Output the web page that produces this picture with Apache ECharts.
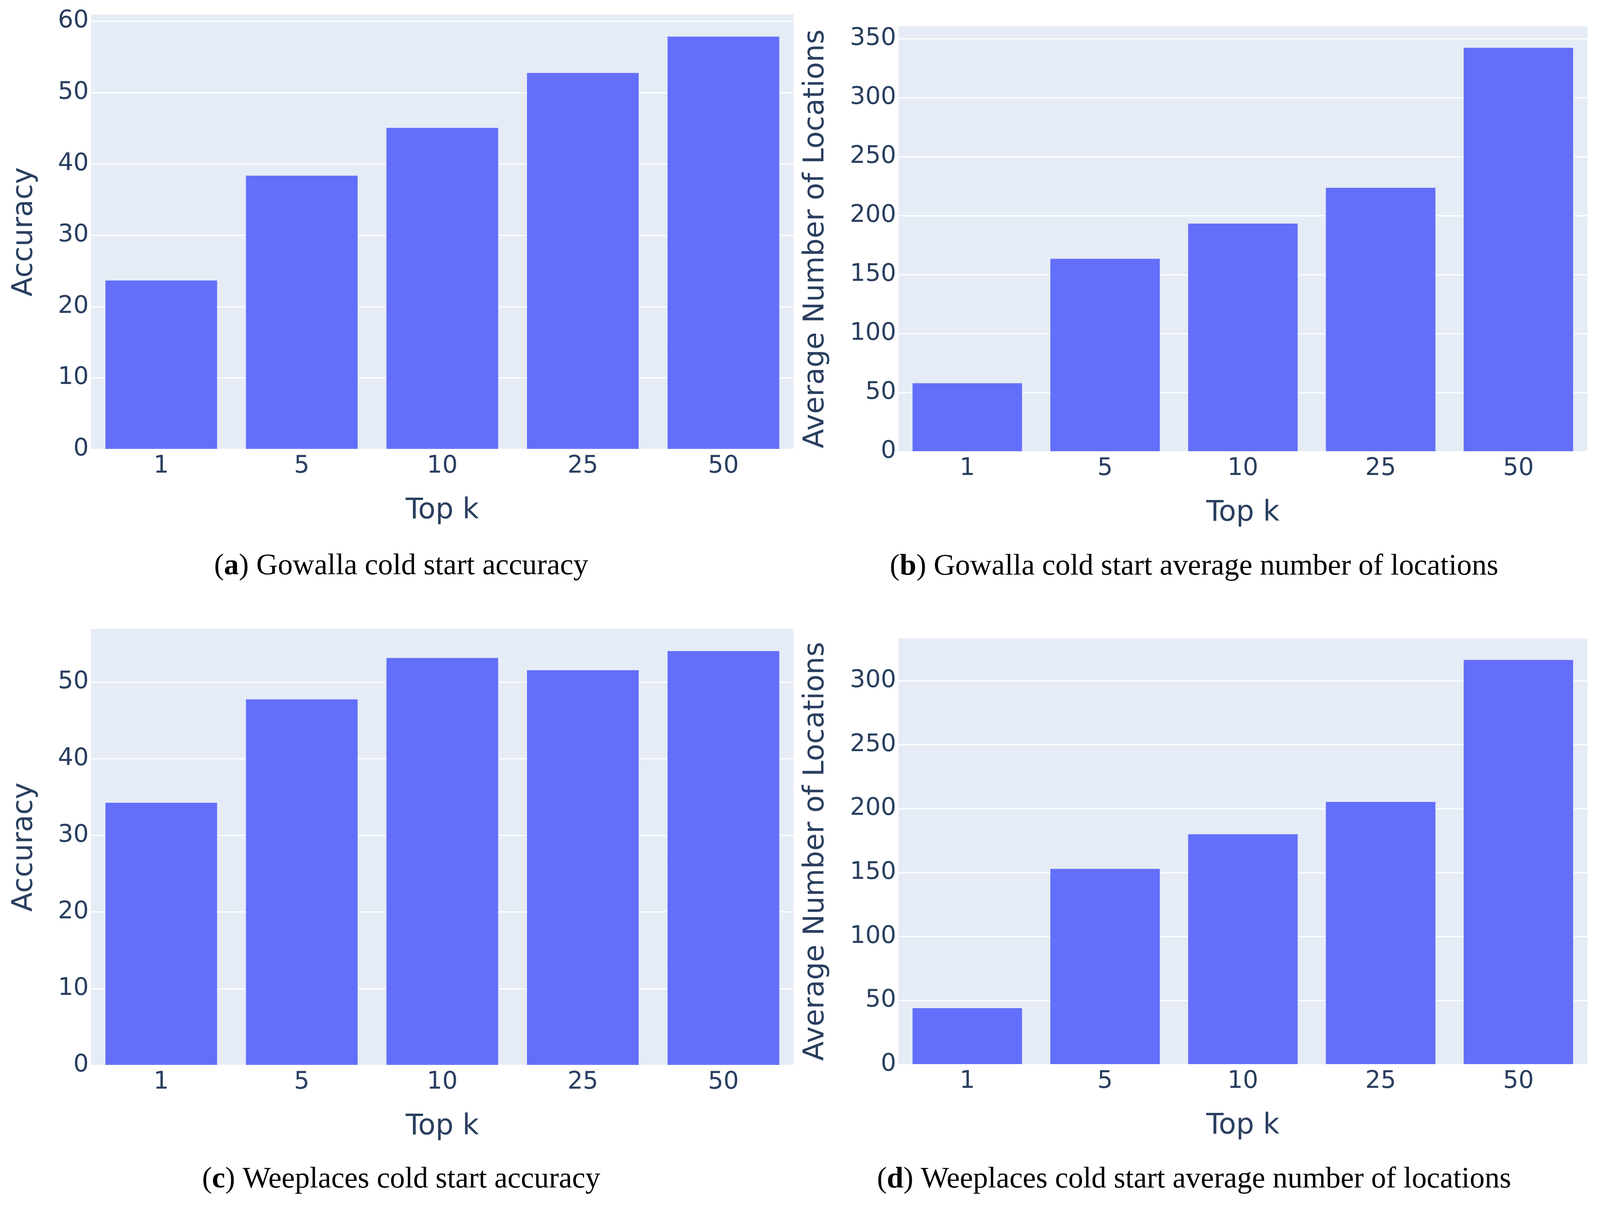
<!DOCTYPE html>
<html>
<head>
<meta charset="utf-8">
<script src="https://cdn.jsdelivr.net/npm/echarts@6/dist/echarts.min.js"></script>
<style>
	html, body { margin: 0; padding: 0; background: #fff; overflow: hidden; }
	#main { width: 100vw; height: 100vh; }
</style>
</head>
<body>
<div id="main"></div>
<script>
// data
const topK = ['1', '5', '10', '25', '50'];
const gowallaAccuracy = [23.7, 38.4, 45.1, 52.8, 57.9];
const gowallaLocations = [58.2, 163.7, 193.5, 223.9, 342.5];
const weeplacesAccuracy = [34.3, 47.8, 53.2, 51.6, 54.1];
const weeplacesLocations = [44.3, 153.2, 180.3, 205.6, 316.6];
const yTitles = ['Accuracy', 'Average Number of Locations', 'Accuracy', 'Average Number of Locations'];
const yStep = [10, 50, 10, 50];
const captionTags = ['a', 'b', 'c', 'd'];
const captionTexts = [
	'Gowalla cold start accuracy',
	'Gowalla cold start average number of locations',
	'Weeplaces cold start accuracy',
	'Weeplaces cold start average number of locations'
];

const seriesData = [gowallaAccuracy, gowallaLocations, weeplacesAccuracy, weeplacesLocations];

const textColor = '#2a3f5f';
const sans = '"DejaVu Sans", Verdana, sans-serif';
const serif = '"Liberation Serif", serif';

// layout measured on a 4292x3090 page, scaled to the real viewport
const dom = document.getElementById('main');
const sx = dom.clientWidth / 4292;
const sy = dom.clientHeight / 3090;
const s = Math.min(sx, sy);

const boxes = [
	{ left: 244, top: 37, width: 1885, height: 1113 },
	{ left: 2410, top: 67, width: 1848, height: 1089 },
	{ left: 244, top: 1610, width: 1885, height: 1117 },
	{ left: 2410, top: 1634, width: 1848, height: 1091 }
];
const yNameGap = [140, 183, 140, 183];
const captionPos = [[1076, 1450], [3203, 1451], [1076, 3020], [3203, 3020]];

let grids = [], xAxes = [], yAxes = [], series = [], graphics = [];
boxes.forEach(function(b, i) {
	grids.push({
		left: b.left * sx,
		top: b.top * sy,
		width: b.width * sx,
		height: b.height * sy,
		show: true,
		backgroundColor: '#E5ECF6',
		borderWidth: 0,
		containLabel: false,
		outerBoundsMode: 'none'
	});
	xAxes.push({
		type: 'category',
		gridIndex: i,
		data: topK,
		axisLine: { show: false },
		axisTick: { show: false },
		splitLine: { show: false },
		axisLabel: {
			color: textColor,
			fontFamily: sans,
			fontSize: 65 * s,
			margin: 13 * sy
		},
		name: 'Top k',
		nameLocation: 'middle',
		nameGap: 122 * sy,
		nameTextStyle: {
			color: textColor,
			fontFamily: sans,
			fontSize: 76 * s
		}
	});
	let step = yStep[i];
	yAxes.push({
		type: 'value',
		gridIndex: i,
		min: 0,
		max: function(v) { return v.max / 0.95; },
		interval: step,
		axisLine: { show: false },
		axisTick: { show: false },
		axisLabel: {
			color: textColor,
			fontFamily: sans,
			fontSize: 65 * s,
			margin: 6 * sx,
			formatter: function(v) {
				return Math.abs(v % step) < 1e-9 ? String(v) : '';
			}
		},
		splitLine: {
			show: true,
			showMaxLine: false,
			lineStyle: { color: '#ffffff', width: 3 * s }
		},
		name: yTitles[i],
		nameLocation: 'middle',
		nameGap: yNameGap[i] * sx,
		nameTextStyle: {
			color: textColor,
			fontFamily: sans,
			fontSize: 76 * s
		}
	});
	series.push({
		type: 'bar',
		xAxisIndex: i,
		yAxisIndex: i,
		data: seriesData[i],
		barCategoryGap: '20%',
		itemStyle: {
			color: '#636EFA',
			borderColor: '#E5ECF6',
			borderWidth: 1 * s
		}
	});
	graphics.push({
		type: 'text',
		x: captionPos[i][0] * sx,
		y: captionPos[i][1] * sy,
		style: {
			text: '({b|' + captionTags[i] + '}) ' + captionTexts[i],
			fill: '#000',
			fontFamily: serif,
			fontSize: 80 * s,
			align: 'center',
			verticalAlign: 'middle',
			rich: {
				b: {
					fontFamily: serif,
					fontSize: 80 * s,
					fontWeight: 'bold',
					fill: '#000'
				}
			}
		}
	});
});

var chart = echarts.init(dom, null, { renderer: 'canvas' });
chart.setOption({
	animation: false,
	backgroundColor: '#ffffff',
	grid: grids,
	xAxis: xAxes,
	yAxis: yAxes,
	series: series,
	graphic: graphics
});
</script>
</body>
</html>
